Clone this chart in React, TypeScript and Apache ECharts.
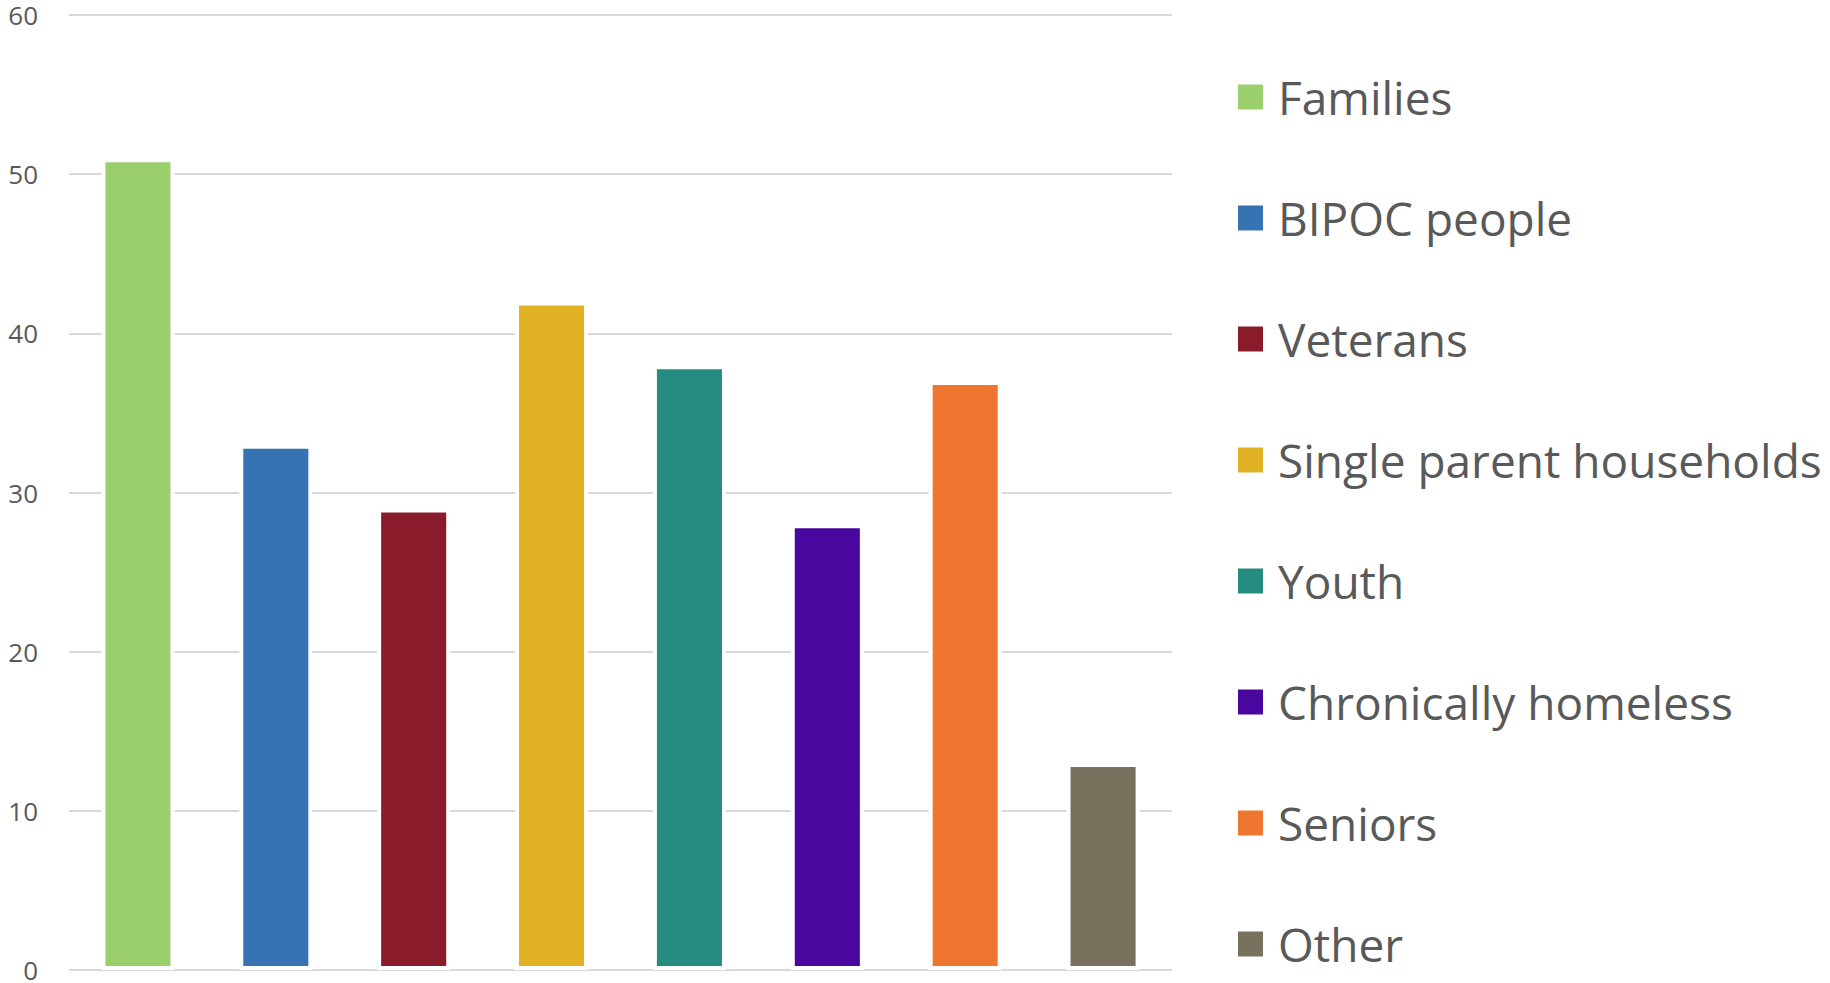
import React, { useEffect, useRef } from "react";
import * as echarts from "echarts";

const categories = [
  "Families",
  "BIPOC people",
  "Veterans",
  "Single parent households",
  "Youth",
  "Chronically homeless",
  "Seniors",
  "Other",
];
const values = [51, 33, 29, 42, 38, 28, 37, 13];
const colors = ["#9ACF6C", "#3773B2", "#8A1B2A", "#E1B324", "#268C81", "#4A07A0", "#EE7631", "#78715E"];
const yTicks = { min: 0, max: 60, interval: 10 };

export default function App() {
  const ref = useRef<HTMLDivElement>(null);
  useEffect(() => {
    if (!ref.current) return;
    const chart = echarts.init(ref.current, undefined, { renderer: "svg" });
    const series = categories.map((name, i) => ({
      name,
      type: "bar",
      stack: "all",
      barWidth: "53%",
      data: categories.map((_, j) => (j === i ? values[i] : null)),
      itemStyle: { color: colors[i], borderColor: "#ffffff", borderWidth: 4 },
    }));
    chart.setOption({
      animation: false,
      backgroundColor: "#ffffff",
      grid: { left: 69, right: 658, top: 15, bottom: 10, containLabel: false },
      xAxis: {
        type: "category",
        data: categories,
        axisLine: { show: false },
        axisTick: { show: false },
        axisLabel: { show: false },
      },
      yAxis: {
        type: "value",
        min: yTicks.min,
        max: yTicks.max,
        interval: yTicks.interval,
        axisLine: { show: false },
        axisTick: { show: false },
        axisLabel: { color: "#595959", fontSize: 26, fontFamily: "Open Sans", margin: 31 },
        splitLine: { lineStyle: { color: "#D9D9D9", width: 2 } },
      },
      legend: {
        orient: "vertical",
        left: 1238,
        top: 69,
        bottom: 0,
        padding: 0,
        itemWidth: 25,
        itemHeight: 25,
        itemGap: 65,
        icon: "rect",
        itemStyle: { borderWidth: 0 },
        textStyle: {
          color: "#595959",
          fontSize: 46,
          fontFamily: "Open Sans",
          lineHeight: 56,
          padding: [0, 0, 0, 10],
        },
        data: categories,
      },
      series,
    });
    return () => chart.dispose();
  }, []);
  return <div ref={ref} style={{ width: 1830, height: 983, position: "absolute", left: 0, top: 0 }} />;
}
